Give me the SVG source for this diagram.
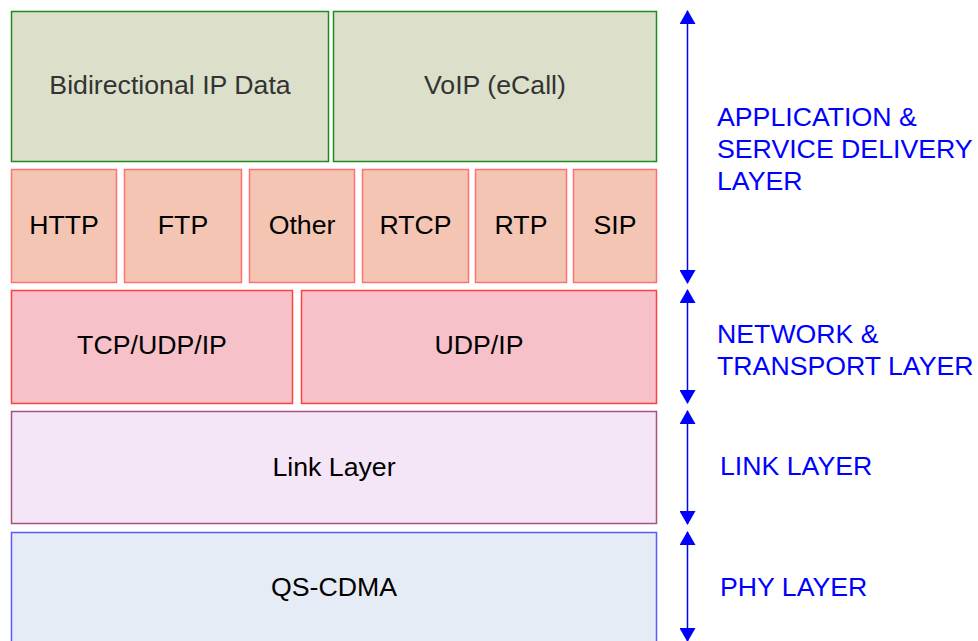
<svg xmlns="http://www.w3.org/2000/svg" width="978" height="641" viewBox="0 0 978 641">
<style>
  text { font-family: "Liberation Sans", Arial, sans-serif; font-size: 26.7px; }
  .lbl { text-anchor: middle; fill: #000; }
  .lbl.top { fill: #333; }
  .side { fill: #0000FF; }
  .app { fill: #DCE0CA; stroke: #1E8C1E; stroke-width: 1.5; }
  .proto { fill: #F4C5B3; stroke: #FF7070; stroke-width: 1.5; }
  .net { fill: #F6C1C9; stroke: #FF4040; stroke-width: 1.5; }
  .link { fill: #F5E6F7; stroke: #A8507F; stroke-width: 1.5; }
  .phy { fill: #E6ECF6; stroke: #5A5AFF; stroke-width: 1.5; }
  .arr { stroke: #0000FF; stroke-width: 1.5; fill: none; marker-start: url(#ah); marker-end: url(#ah); }
</style>
<defs>
  <marker id="ah" viewBox="0 0 14 16" refX="13" refY="8" markerWidth="14" markerHeight="16" markerUnits="userSpaceOnUse" orient="auto-start-reverse">
    <path d="M0,0 L14,8 L0,16 Z" fill="#0000FF"/>
  </marker>
</defs>
<rect width="978" height="641" fill="#fff"/>

<g id="bidir"><rect class="app" x="11.5" y="11.5" width="317" height="150"/><text class="lbl top" x="170" y="94">Bidirectional IP Data</text></g>
<g id="voip"><rect class="app" x="333.5" y="11.5" width="323" height="150"/><text class="lbl top" x="495" y="94">VoIP (eCall)</text></g>

<g id="http"><rect class="proto" x="11.5" y="169.5" width="105" height="113"/><text class="lbl" x="64" y="234">HTTP</text></g>
<g id="ftp"><rect class="proto" x="124.5" y="169.5" width="117" height="113"/><text class="lbl" x="183" y="234">FTP</text></g>
<g id="other"><rect class="proto" x="249.5" y="169.5" width="105" height="113"/><text class="lbl" x="302" y="234">Other</text></g>
<g id="rtcp"><rect class="proto" x="362.5" y="169.5" width="106" height="113"/><text class="lbl" x="415.5" y="234">RTCP</text></g>
<g id="rtp"><rect class="proto" x="475.5" y="169.5" width="91" height="113"/><text class="lbl" x="521" y="234">RTP</text></g>
<g id="sip"><rect class="proto" x="573.5" y="169.5" width="83" height="113"/><text class="lbl" x="615" y="234">SIP</text></g>

<g id="tcp"><rect class="net" x="11.5" y="290.5" width="281" height="113"/><text class="lbl" x="152" y="354">TCP/UDP/IP</text></g>
<g id="udp"><rect class="net" x="301.5" y="290.5" width="355" height="113"/><text class="lbl" x="479" y="354">UDP/IP</text></g>

<g id="linklayer"><rect class="link" x="11.5" y="411.5" width="645" height="112"/><text class="lbl" x="334" y="476">Link Layer</text></g>
<g id="qscdma"><rect class="phy" x="11.5" y="532.5" width="645" height="115"/><text class="lbl" x="334" y="596">QS-CDMA</text></g>

<g id="connectors">
  <line class="arr" x1="687.5" y1="11" x2="687.5" y2="283"/>
  <line class="arr" x1="687.5" y1="290" x2="687.5" y2="403"/>
  <line class="arr" x1="687.5" y1="411" x2="687.5" y2="524"/>
  <line class="arr" x1="687.5" y1="532" x2="687.5" y2="641"/>
</g>

<g id="labels">
  <text class="side" x="717" y="126">APPLICATION &amp;</text>
  <text class="side" x="717" y="158">SERVICE DELIVERY</text>
  <text class="side" x="717" y="190">LAYER</text>
  <text class="side" x="717" y="343">NETWORK &amp;</text>
  <text class="side" x="717" y="375">TRANSPORT LAYER</text>
  <text class="side" x="720" y="475">LINK LAYER</text>
  <text class="side" x="720" y="596">PHY LAYER</text>
</g>
</svg>
